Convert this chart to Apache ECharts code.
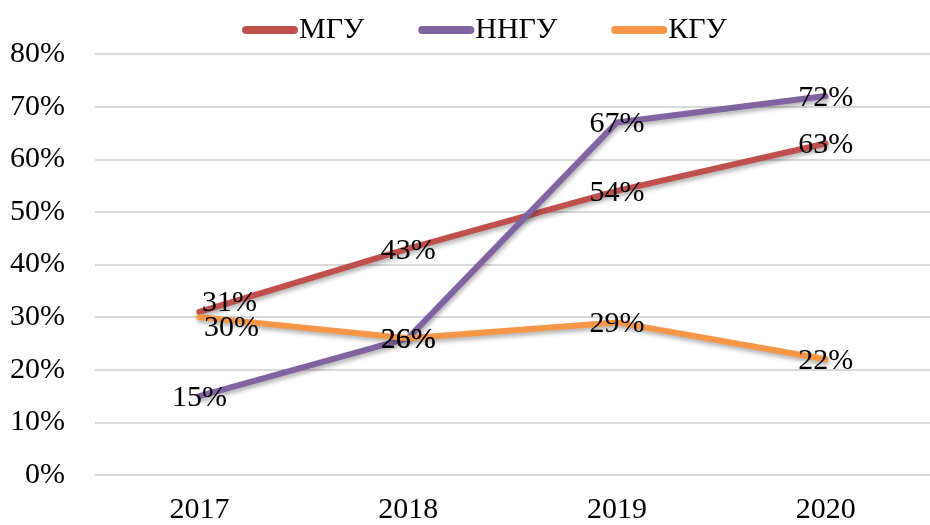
<!DOCTYPE html>
<html>
<head>
<meta charset="utf-8">
<script src="https://cdn.jsdelivr.net/npm/echarts@6/dist/echarts.min.js"></script>
<style>
  html, body { margin: 0; padding: 0; background: #fff; }
  #chart { width: 930px; height: 525px; }
</style>
</head>
<body>
<div id="chart"></div>
<script>
var years = ['2017', '2018', '2019', '2020'];
var mgu = [0.31, 0.43, 0.54, 0.63];
var nngu = [0.15, 0.26, 0.67, 0.72];
var kgu = [0.30, 0.26, 0.29, 0.22];

var font = '"Liberation Serif", "Times New Roman", serif';
var lineIcon = 'path://M4 0H52A4 4 0 0 1 52 8H4A4 4 0 0 1 4 0Z';

// labels sit on the point, except the two crowded ones at 2017
function labelData(values, firstOffset) {
  return values.map(function (v, i) {
    if (i === 0 && firstOffset) {
      return { value: v, label: { offset: firstOffset } };
    }
    return v;
  });
}

function makeSeries(name, color, values, firstOffset) {
  return {
    name: name,
    type: 'line',
    data: labelData(values, firstOffset),
    symbol: 'circle',
    symbolSize: 1,
    showSymbol: true,
    lineStyle: {
      color: color,
      width: 6,
      cap: 'round',
      join: 'round',
      shadowColor: 'rgba(0,0,0,0.3)',
      shadowBlur: 4,
      shadowOffsetX: 1,
      shadowOffsetY: 3
    },
    itemStyle: { color: color },
    label: {
      show: true,
      position: 'inside',
      offset: [0, 2],
      color: '#000',
      fontFamily: font,
      fontSize: 30,
      formatter: function (p) { return Math.round(p.value * 100) + '%'; }
    },
    animation: false
  };
}

var chart = echarts.init(document.getElementById('chart'));
chart.setOption({
  backgroundColor: '#fff',
  textStyle: { fontFamily: font },
  legend: {
    top: 10,
    left: 237,
    itemWidth: 56,
    itemHeight: 8,
    itemGap: 54,
    textStyle: { color: '#000', fontSize: 30, fontFamily: font, padding: [0, 0, 0, -4] },
    data: [
      { name: 'МГУ', icon: lineIcon },
      { name: 'ННГУ', icon: lineIcon },
      { name: 'КГУ', icon: lineIcon }
    ]
  },
  grid: { left: 95, top: 54, width: 848, bottom: 50, containLabel: false },
  xAxis: {
    type: 'category',
    data: years,
    boundaryGap: true,
    axisLine: { show: false },
    axisTick: { show: false },
    axisLabel: { color: '#000', fontSize: 30, fontFamily: font, margin: 20 }
  },
  yAxis: {
    type: 'value',
    min: 0,
    max: 0.8,
    interval: 0.1,
    axisLine: { show: false },
    axisTick: { show: false },
    splitLine: { lineStyle: { color: '#d9d9d9', width: 2 } },
    axisLabel: {
      color: '#000',
      fontSize: 30,
      fontFamily: font,
      margin: 30,
      formatter: function (v) { return Math.round(v * 100) + '%'; }
    }
  },
  series: [
    makeSeries('МГУ', '#C0504D', mgu, [30, -9]),
    makeSeries('ННГУ', '#8064A2', nngu, null),
    makeSeries('КГУ', '#F79646', kgu, [32, 11])
  ]
});
</script>
</body>
</html>
